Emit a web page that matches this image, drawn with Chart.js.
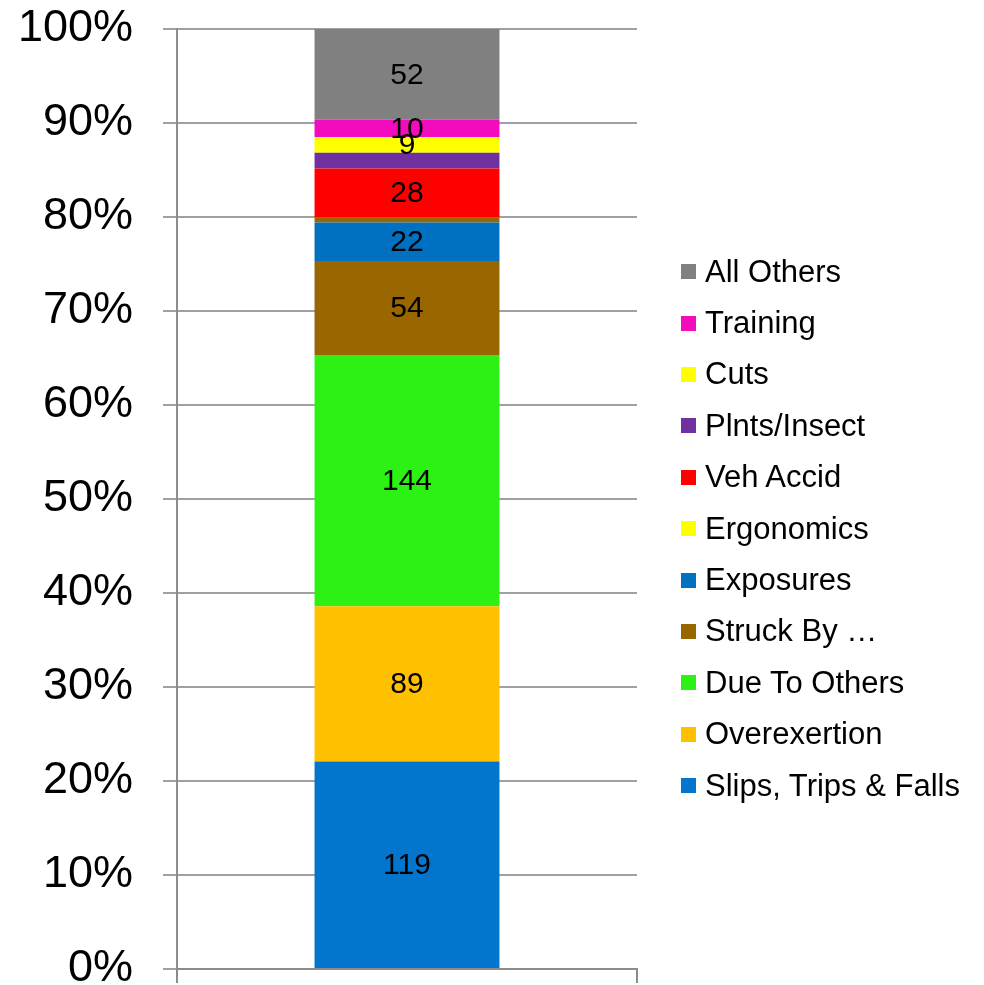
<!DOCTYPE html>
<html>
<head>
<meta charset="utf-8">
<script src="https://cdn.jsdelivr.net/npm/chart.js@4.4.1/dist/chart.umd.min.js"></script>
<style>
    html, body { margin: 0; padding: 0; background: #fff; }
    #wrap { position: relative; width: 984px; height: 985px; }
    #legend { position: absolute; left: 681px; top: 246px; font-family: "Liberation Sans", Arial, sans-serif; font-size: 31px; color: #000; }
    #legend div { height: 51.4px; display: flex; align-items: center; white-space: nowrap; }
    #legend span.box { display: inline-block; width: 15px; height: 15px; margin-right: 9px; }
</style>
</head>
<body>
<div id="wrap">
    <canvas id="myChart" width="984" height="985"></canvas>
    <div id="legend"></div>
</div>
<script>
// stacked from bottom to top
var categories = ['Total'];
var seriesNames = ['Slips, Trips & Falls', 'Overexertion', 'Due To Others', 'Struck By \u2026', 'Exposures', 'Ergonomics', 'Veh Accid', 'Plnts/Insect', 'Cuts', 'Training', 'All Others'];
var seriesValues = [119, 89, 144, 54, 22, 3, 28, 9, 9, 10, 52];
var showLabel = [true, true, true, true, true, false, true, false, true, true, true];
var barColors = ['#0475CD', '#FFC000', '#2DF115', '#996600', '#0070C0', '#996600', '#FF0000', '#7030A0', '#FFFF00', '#F20CBE', '#808080'];
var legendColors = ['#0475CD', '#FFC000', '#2DF115', '#996600', '#0070C0', '#FFFF00', '#FF0000', '#7030A0', '#FFFF00', '#F20CBE', '#808080'];
var yTicks = [0, 10, 20, 30, 40, 50, 60, 70, 80, 90, 100];

var total = seriesValues.reduce(function (a, b) { return a + b; }, 0);
var FONT = '"Liberation Sans", Arial, sans-serif';

var datasets = [];
for (var i = 0; i < seriesNames.length; i++) {
    datasets.push({
        label: seriesNames[i],
        data: [seriesValues[i] / total * 100],
        backgroundColor: barColors[i],
        borderWidth: 0,
        barPercentage: 0.402,
        categoryPercentage: 1.0
    });
}

var valueLabels = {
    id: 'valueLabels',
    afterDatasetsDraw: function (chart) {
        var ctx = chart.ctx;
        ctx.save();
        ctx.font = '30px ' + FONT;
        ctx.fillStyle = '#000';
        ctx.textAlign = 'center';
        ctx.textBaseline = 'middle';
        chart.data.datasets.forEach(function (ds, i) {
            if (!showLabel[i]) return;
            var bar = chart.getDatasetMeta(i).data[0];
            ctx.fillText(String(seriesValues[i]), bar.x, (bar.y + bar.base) / 2 + 1);
        });
        ctx.restore();
    }
};

var ctx = document.getElementById('myChart').getContext('2d');
var chart = new Chart(ctx, {
    type: 'bar',
    data: { labels: categories, datasets: datasets },
    plugins: [valueLabels],
    options: {
        responsive: false,
        animation: false,
        layout: { padding: { top: 29, right: 347, bottom: 0, left: 0 } },
        plugins: { legend: { display: false }, tooltip: { enabled: false } },
        scales: {
            x: {
                stacked: true,
                afterFit: function (axis) { axis.height = 16; },
                grid: { drawOnChartArea: false, drawTicks: true, tickLength: 14, color: '#8c8c8c', lineWidth: 2 },
                border: { display: true, color: '#8c8c8c', width: 2 },
                ticks: { display: false }
            },
            y: {
                stacked: true,
                min: 0,
                max: 100,
                afterBuildTicks: function (axis) {
                    axis.ticks = yTicks.map(function (v) { return { value: v }; });
                },
                afterFit: function (axis) {
                    axis.width = 177;
                    axis.paddingTop = 0;
                    axis.paddingBottom = 0;
                },
                grid: { color: '#a0a0a0', lineWidth: 2, tickLength: 14 },
                border: { display: true, color: '#8c8c8c', width: 2 },
                ticks: {
                    padding: 30,
                    color: '#000',
                    font: { family: FONT, size: 45 },
                    callback: function (v) { return v + '%'; }
                }
            }
        }
    }
});

// legend, top item is the last series
var legend = document.getElementById('legend');
for (var j = seriesNames.length - 1; j >= 0; j--) {
    var row = document.createElement('div');
    var box = document.createElement('span');
    box.className = 'box';
    box.style.background = legendColors[j];
    row.appendChild(box);
    row.appendChild(document.createTextNode(seriesNames[j]));
    legend.appendChild(row);
}
</script>
</body>
</html>
